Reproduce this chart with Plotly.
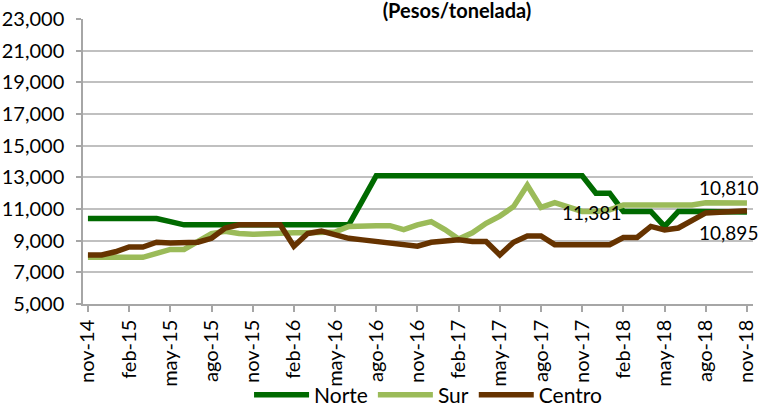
import plotly.graph_objects as go

months = ["nov-14","dic-14","ene-15","feb-15","mar-15","abr-15","may-15","jun-15","jul-15","ago-15","sep-15","oct-15",
          "nov-15","dic-15","ene-16","feb-16","mar-16","abr-16","may-16","jun-16","jul-16","ago-16","sep-16","oct-16",
          "nov-16","dic-16","ene-17","feb-17","mar-17","abr-17","may-17","jun-17","jul-17","ago-17","sep-17","oct-17",
          "nov-17","dic-17","ene-18","feb-18","mar-18","abr-18","may-18","jun-18","jul-18","ago-18","sep-18","oct-18",
          "nov-18"]
tick_labels = ["nov-14","feb-15","may-15","ago-15","nov-15","feb-16","may-16","ago-16","nov-16","feb-17","may-17",
               "ago-17","nov-17","feb-18","may-18","ago-18","nov-18"]

norte = [10400,10400,10400,10400,10400,10400,10200,10000,10000,10000,10000,10000,10000,10000,10000,10000,10000,10000,
         10000,10000,11550,13100,13100,13100,13100,13100,13100,13100,13100,13100,13100,13100,13100,13100,13100,13100,
         13100,12000,12000,10850,10850,10850,9900,10850,10850,10850,10850,10850,10810]
sur = [7950,7950,7950,7950,7950,8200,8450,8450,8950,9450,9600,9450,9400,9450,9450,9500,9500,9500,9550,9900,9950,
       9950,9950,9700,10000,10200,9700,9100,9500,10100,10550,11150,12500,11100,11400,11100,10850,10850,10950,11250,
       11250,11250,11250,11250,11250,11400,11400,11410,11381]
centro = [8100,8100,8300,8600,8600,8900,8850,8850,8900,9150,9800,10000,10000,10000,10000,8650,9450,9600,9400,9150,
          9050,8950,8870,8780,8650,8900,8950,9050,8950,8950,8100,8900,9300,9300,8750,8750,8750,8750,8750,9200,9200,
          9900,9680,9800,10250,10750,10800,10850,10895]

series = [("Norte", norte, "#006A00"), ("Sur", sur, "#9BBB59"), ("Centro", centro, "#663300")]

FONT = "Lato"
fig = go.Figure()
for name, vals, col in series:
    fig.add_trace(go.Scatter(x=months, y=vals, mode="lines", name=name,
                             line=dict(color=col, width=5.5), hoverinfo="skip"))

lab_font = dict(family=FONT, size=19, color="#000000")
# data labels (positioned relative to the last points)
fig.add_annotation(x=months[-1], y=norte[-1], text=f"{norte[-1]:,}", showarrow=False,
                   xanchor="right", yanchor="middle", xshift=13, yshift=25, font=lab_font)
fig.add_annotation(x=months[-1], y=sur[-1], text=f"{sur[-1]:,}", showarrow=False,
                   xanchor="center", yanchor="middle", xshift=-155, yshift=-10, font=lab_font)
fig.add_annotation(x=months[-1], y=centro[-1], text=f"{centro[-1]:,}", showarrow=False,
                   xanchor="right", yanchor="middle", xshift=13, yshift=-22, font=lab_font)

fig.update_layout(
    width=762, height=408,
    margin=dict(l=83, r=9, t=19, b=104, autoexpand=False),
    paper_bgcolor="white", plot_bgcolor="white",
    font=dict(family=FONT, color="#000000"),
    title=dict(text="<b>(Pesos/tonelada)</b>", x=(457/762), xanchor="center",
               yref="container", y=1 - 4/408, yanchor="top", pad=dict(t=0, b=0),
               font=dict(family=FONT, size=20, color="#000000")),
    showlegend=True,
    legend=dict(orientation="h", x=0.515, xanchor="center", y=-0.32, yanchor="middle",
                font=dict(family=FONT, size=21), itemwidth=55, tracegroupgap=0,
                bgcolor="rgba(0,0,0,0)"),
    xaxis=dict(type="category", range=[-0.36, 48.44], tickmode="array", automargin=False,
               tickvals=tick_labels, ticktext=tick_labels, tickangle=-90,
               ticks="outside", ticklen=6, tickcolor="#A6A6A6", tickwidth=1.5,
               showline=True, linecolor="#A6A6A6", linewidth=1.5,
               showgrid=False, zeroline=False,
               tickfont=dict(family=FONT, size=20, color="#000000")),
    yaxis=dict(range=[5000, 23000], tickvals=list(range(5000, 23001, 2000)), tickformat=",d",
               automargin=False, ticklabelstandoff=8,
               ticks="outside", ticklen=5, tickcolor="#A6A6A6", tickwidth=1.5,
               showline=True, linecolor="#A6A6A6", linewidth=1.5,
               showgrid=True, gridcolor="#C0C0C0", gridwidth=1.5, zeroline=False,
               tickfont=dict(family=FONT, size=20, color="#000000")),
)

fig.write_html("out.html", config={"displayModeBar": False},
               post_script="document.body.style.margin='0';")
